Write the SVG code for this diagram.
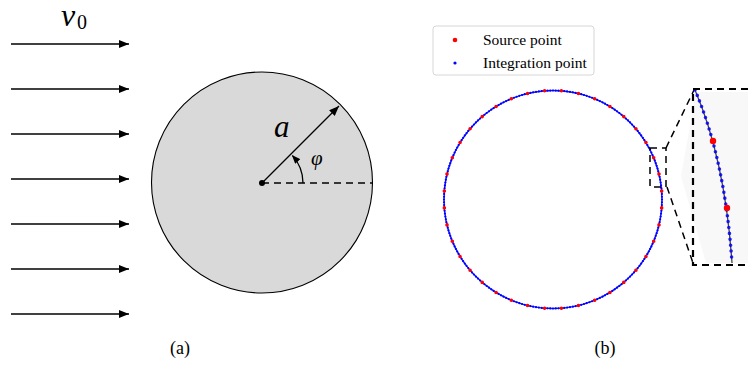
<svg xmlns="http://www.w3.org/2000/svg" width="748" height="370" viewBox="0 0 748 370">
<defs>
<style>
.flow{stroke:#000;stroke-width:1.3;fill:none;marker-end:url(#ah)}
.serif{font-family:"Liberation Serif","DejaVu Serif",serif;fill:#000}
.it{font-style:italic}
.dash{stroke:#000;fill:none;stroke-dasharray:7 5}
</style>
<marker id="ah" viewBox="0 0 10 8" refX="10" refY="4" markerWidth="10" markerHeight="8" markerUnits="userSpaceOnUse" orient="auto">
<path d="M0,0 L10,4 L0,8 Z" fill="#000"/>
</marker>
<marker id="ah2" viewBox="0 0 10 8" refX="9" refY="4" markerWidth="9" markerHeight="7" markerUnits="userSpaceOnUse" orient="auto">
<path d="M0,0 L10,4 L0,8 Z" fill="#000"/>
</marker>
</defs>
<rect width="748" height="370" fill="#fff"/>

<g id="flow-arrows">
<line class="flow" x1="11" y1="44" x2="129" y2="44"/>
<line class="flow" x1="11" y1="89" x2="129" y2="89"/>
<line class="flow" x1="11" y1="134" x2="129" y2="134"/>
<line class="flow" x1="11" y1="179" x2="129" y2="179"/>
<line class="flow" x1="11" y1="224" x2="129" y2="224"/>
<line class="flow" x1="11" y1="269" x2="129" y2="269"/>
<line class="flow" x1="11" y1="314" x2="129" y2="314"/>
</g>
<g id="label-v0">
<text class="serif it" x="61" y="26" font-size="32">v</text>
<text class="serif" x="77" y="29" font-size="20">0</text>
</g>

<g id="cylinder">
<circle cx="262" cy="182.5" r="110.5" fill="#d9d9d9" stroke="#000" stroke-width="1.1"/>
<line class="dash" x1="262" y1="183" x2="372" y2="183" stroke-width="1.6"/>
<line x1="262" y1="183" x2="339" y2="106" stroke="#000" stroke-width="1.3" marker-end="url(#ah)"/>
<path d="M303,183 A41,41 0 0 0 292.5,155.6" fill="none" stroke="#000" stroke-width="1.3" marker-end="url(#ah2)"/>
<circle cx="262" cy="183" r="3" fill="#000"/>
<text class="serif it" x="274" y="137" font-size="31">a</text>
<text class="serif it" x="311" y="165" font-size="21">φ</text>
</g>
<text id="caption-a" class="serif" x="180" y="354" font-size="18" text-anchor="middle">(a)</text>

<g id="discretized-circle">
<circle cx="553" cy="199.5" r="109" fill="none" stroke="#1a1aff" stroke-width="1.4"/>
<circle cx="553" cy="199.5" r="109" fill="none" stroke="#0000ff" stroke-width="2.2" stroke-linecap="round" pathLength="240" stroke-dasharray="0 1"/>
<circle cx="553" cy="199.5" r="109" fill="none" stroke="#ff0000" stroke-width="3.6" stroke-linecap="round" pathLength="40" stroke-dasharray="0 1" stroke-dashoffset="-0.5"/>
</g>

<g id="legend">
<rect x="433" y="26" width="161" height="49" rx="3" fill="#fff" stroke="#d6d6d6" stroke-width="1"/>
<circle cx="455" cy="40" r="2.3" fill="#ff0000"/>
<circle cx="455" cy="63" r="1.6" fill="#0000ff"/>
<text class="serif" x="483" y="45" font-size="15.5">Source point</text>
<text class="serif" x="483" y="68" font-size="15.5">Integration point</text>
</g>

<g id="zoom-box">
<rect x="650" y="148" width="16" height="39" class="dash" stroke-width="1.5" stroke-dasharray="6 4"/>
</g>
<g id="connectors">
<line class="dash" x1="666" y1="148" x2="694" y2="90" stroke-width="1.5"/>
<line class="dash" x1="667" y1="187" x2="693" y2="263" stroke-width="1.5"/>
</g>
<g id="inset">
<polygon points="696,92 748,92 748,263 706,263 681,176" fill="#f8f8f8"/>
<path d="M695,90 Q725,160 732,263" fill="none" stroke="#444" stroke-width="1.3"/>
<path d="M695,90 Q725,160 732,263" fill="none" stroke="#0000ff" stroke-width="3.6" stroke-linecap="round" pathLength="30" stroke-dasharray="0 1" opacity="0.85"/>
<circle cx="713" cy="141" r="3.2" fill="#ff0000"/>
<circle cx="727" cy="208" r="3.2" fill="#ff0000"/>
<path d="M748,89 H693 V265 H748" class="dash" stroke-width="2.2" stroke-dasharray="9 5"/>
</g>
<text id="caption-b" class="serif" x="605" y="354" font-size="18" text-anchor="middle">(b)</text>
</svg>
